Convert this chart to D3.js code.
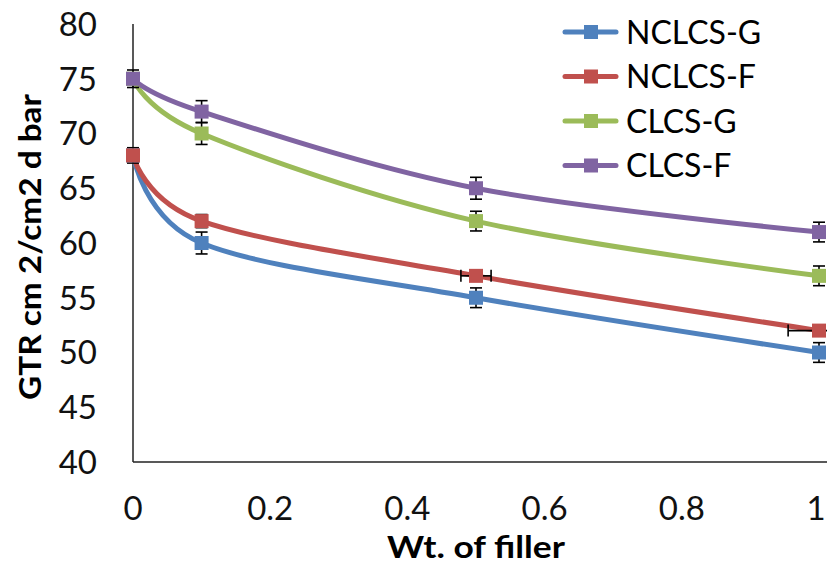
<!DOCTYPE html>
<html><head><meta charset="utf-8">
<script src="https://cdn.jsdelivr.net/npm/d3@7"></script>
<style>body{margin:0;background:#fff}svg{display:block}</style>
</head><body>
<svg id="c" width="827" height="567"></svg>
<script>
const xValues = [0, 0.1, 0.5, 1];
const seriesNames = ["NCLCS-G", "NCLCS-F", "CLCS-G", "CLCS-F"];
const seriesColors = ["#4F81BD", "#C0504D", "#9BBB59", "#8064A2"];
const ncLcsG = [68, 60, 55, 50];
const ncLcsF = [68, 62, 57, 52];
const clcsG = [75, 70, 62, 57];
const clcsF = [75, 72, 65, 61];
const yErrNcLcsG = [0, 1, 0.9, 0.9];
const yErrNcLcsF = [0.7, 0.6, 0, 0];
const yErrClcsG = [0, 1, 0.9, 0.9];
const yErrClcsF = [0.8, 1, 1, 0.9];
const xErrNcLcsF = [0, 0, 0.022, 0.045];
const xTicks = [0, 0.2, 0.4, 0.6, 0.8, 1];
const yTicks = [40, 45, 50, 55, 60, 65, 70, 75, 80];

const series = [ncLcsG, ncLcsF, clcsG, clcsF];
const yErrs = [yErrNcLcsG, yErrNcLcsF, yErrClcsG, yErrClcsF];
const xErrs = [null, xErrNcLcsF, null, null];

const svg = d3.select("#c");
const font = "Lato, 'Open Sans', sans-serif";
const x = d3.scaleLinear().domain([0, 1]).range([133, 819]);
const y = d3.scaleLinear().domain([40, 80]).range([462, 24]);

// axes
svg.append("line").attr("x1", x(0)).attr("x2", x(0)).attr("y1", y(80)).attr("y2", y(40))
  .attr("stroke", "#222").attr("stroke-width", 1.5);
svg.append("line").attr("x1", x(0)).attr("x2", 827).attr("y1", y(40)).attr("y2", y(40))
  .attr("stroke", "#222").attr("stroke-width", 1.5);

svg.selectAll("text.yt").data(yTicks).join("text").attr("class", "yt")
  .attr("x", 97).attr("y", d => y(d)).attr("dy", "0.36em").attr("text-anchor", "end")
  .attr("font-family", font).attr("font-size", 33).attr("fill", "#111").text(d => d);
svg.selectAll("text.xt").data(xTicks).join("text").attr("class", "xt")
  .attr("x", d => Math.min(x(d), 816)).attr("y", 520).attr("text-anchor", "middle")
  .attr("font-family", font).attr("font-size", 33).attr("fill", "#111").text(d => d);

svg.append("text").attr("x", (x(0) + x(1)) / 2).attr("y", 558).attr("text-anchor", "middle")
  .attr("font-family", font).attr("font-weight", "bold").attr("font-size", 31).attr("fill", "#000")
  .attr("textLength", 178).attr("lengthAdjust", "spacingAndGlyphs")
  .text("Wt. of filler");
svg.append("text").attr("transform", "translate(41,247) rotate(-90)").attr("text-anchor", "middle")
  .attr("font-family", font).attr("font-weight", "bold").attr("font-size", 30).attr("fill", "#000")
  .attr("textLength", 306).attr("lengthAdjust", "spacingAndGlyphs")
  .text("GTR cm 2/cm2 d bar");

const line = d3.line().x(d => x(d[0])).y(d => y(d[1])).curve(d3.curveCardinal.tension(0));

series.forEach((s, i) => {
  const pts = xValues.map((xv, j) => [xv, s[j]]);
  svg.append("path").attr("d", line(pts)).attr("fill", "none")
    .attr("stroke", seriesColors[i]).attr("stroke-width", 5).attr("stroke-linejoin", "round");
});

// error bars
const eb = svg.append("g").attr("stroke", "#000").attr("stroke-width", 1.6);
series.forEach((s, i) => {
  xValues.forEach((xv, j) => {
    const e = yErrs[i][j];
    if (e > 0) {
      const cx = x(xv);
      eb.append("line").attr("x1", cx).attr("x2", cx).attr("y1", y(s[j] + e)).attr("y2", y(s[j] - e));
      [e, -e].forEach(v => eb.append("line").attr("x1", cx - 6).attr("x2", cx + 6)
        .attr("y1", y(s[j] + v)).attr("y2", y(s[j] + v)));
    }
    if (xErrs[i] && xErrs[i][j] > 0) {
      const ex = xErrs[i][j], cy = y(s[j]);
      eb.append("line").attr("x1", x(xv - ex)).attr("x2", x(Math.min(1.02, xv + ex))).attr("y1", cy).attr("y2", cy);
      [xv - ex, xv + ex].forEach(v => eb.append("line").attr("x1", x(v)).attr("x2", x(v))
        .attr("y1", cy - 6).attr("y2", cy + 6));
    }
  });
});

// markers
series.forEach((s, i) => {
  svg.append("g").selectAll("rect").data(xValues.map((xv, j) => [xv, s[j]])).join("rect")
    .attr("x", d => x(d[0]) - 7).attr("y", d => y(d[1]) - 7).attr("width", 14).attr("height", 14)
    .attr("fill", seriesColors[i]);
});

// legend
const legY = [32, 76.5, 121, 165.5];
seriesNames.forEach((n, i) => {
  const g = svg.append("g");
  g.append("line").attr("x1", 565).attr("x2", 616).attr("y1", legY[i]).attr("y2", legY[i])
    .attr("stroke", seriesColors[i]).attr("stroke-width", 5).attr("stroke-linecap", "round");
  g.append("rect").attr("x", 591 - 7).attr("y", legY[i] - 7).attr("width", 14).attr("height", 14)
    .attr("fill", seriesColors[i]);
  g.append("text").attr("x", 626).attr("y", legY[i]).attr("dy", "0.36em")
    .attr("font-family", font).attr("font-size", 32).attr("fill", "#000").text(n);
});
</script>
</body></html>
